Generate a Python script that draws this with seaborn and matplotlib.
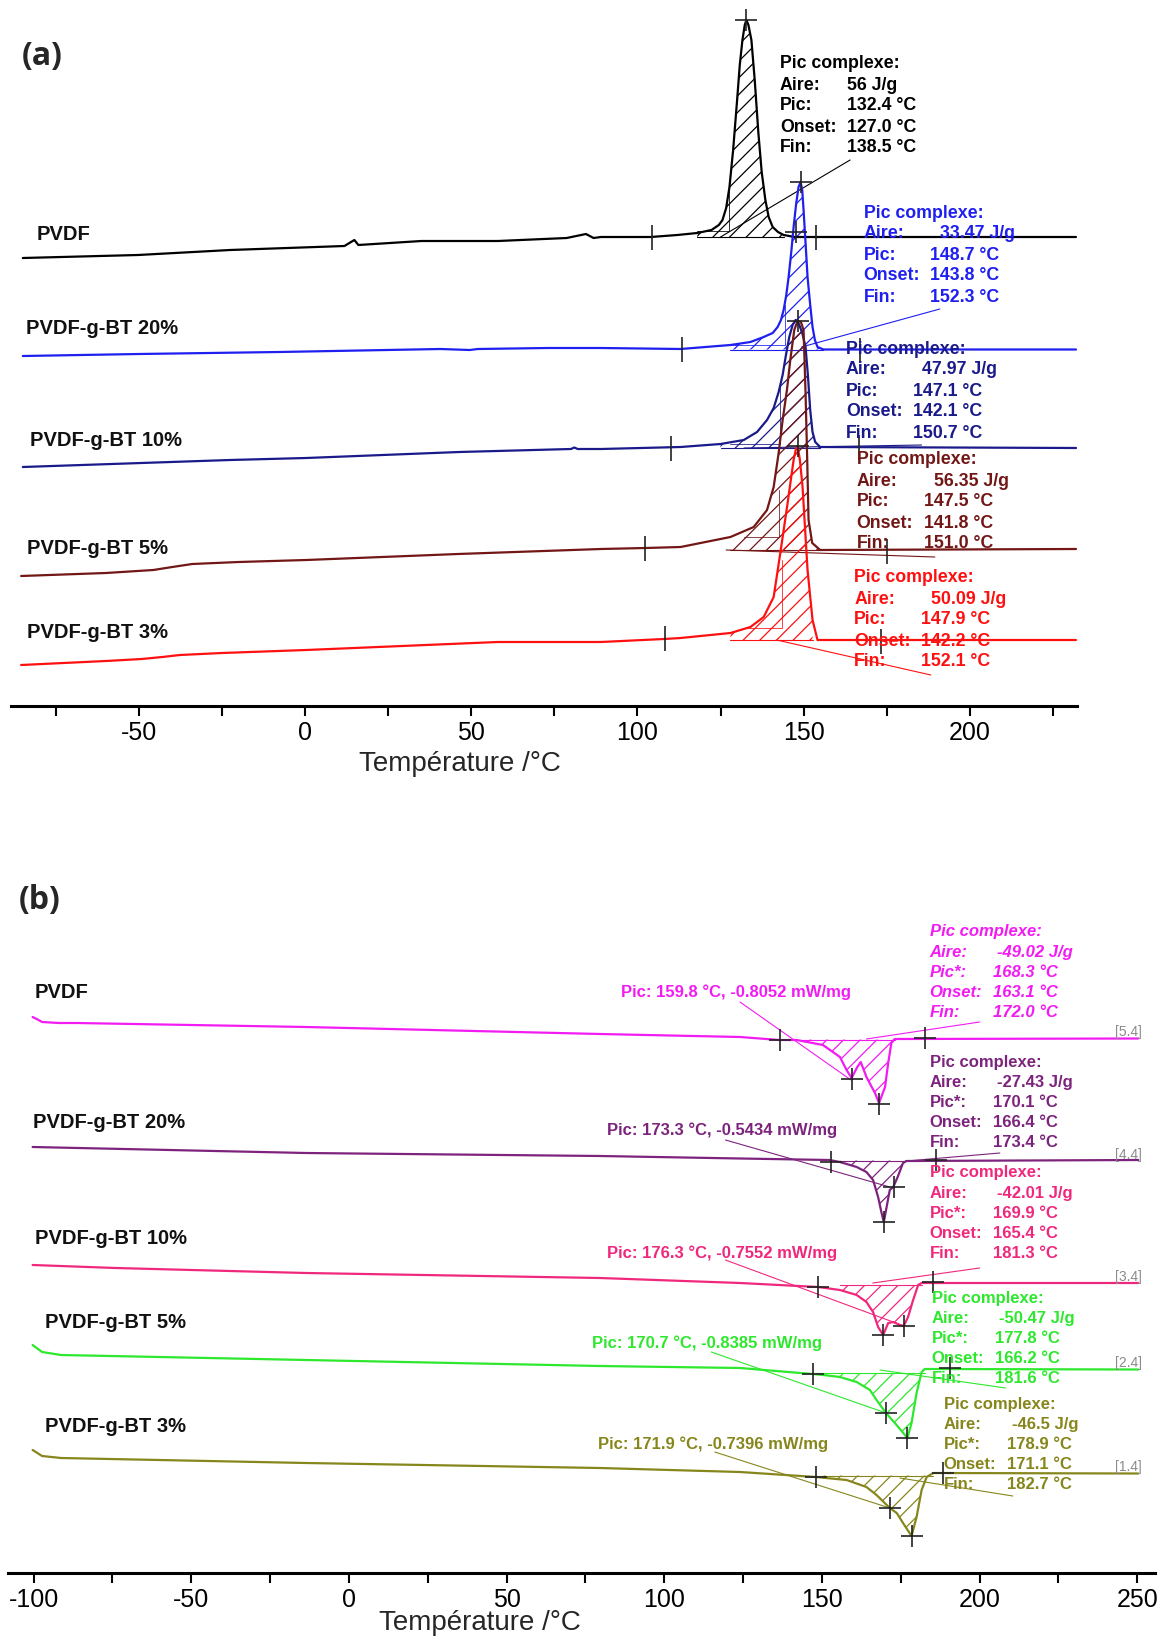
import numpy as np
import pandas as pd
import matplotlib
matplotlib.use("Agg")
import matplotlib.pyplot as plt
import seaborn as sns
from matplotlib.ticker import MultipleLocator

sns.set_theme(style="white")
plt.rcParams['font.family'] = ['Liberation Sans', 'DejaVu Sans']
plt.rcParams['hatch.linewidth'] = 0.9
plt.rcParams['axes.unicode_minus'] = False

# ---------------- Panel (a): cooling, heat flow (a.u., shifted) ----------------
a_T_pvdf = [-85, -50.3, -22.6, 11.8, 14.8, 16, 35, 58, 78.7, 84.5, 86.8, 89, 104, 112, 118, 122.3, 124.5,
            125.6, 126.7, 127.7, 128.8, 130, 130.8, 131.6, 132.3, 132.8, 133.4, 134.3, 135.3, 136.4, 137.4,
            138.5, 139.5, 140.7, 142.3, 144, 147.3, 232]
a_H_pvdf = [4.48, 4.51, 4.56, 4.60, 4.66, 4.61, 4.65, 4.65, 4.68, 4.72, 4.68, 4.69, 4.69, 4.71, 4.73, 4.76, 4.81,
            4.86, 4.98, 5.19, 5.56, 6.06, 6.41, 6.66, 6.81, 6.86, 6.81, 6.66, 6.26, 5.73, 5.34,
            5.06, 4.89, 4.79, 4.74, 4.71, 4.69, 4.69]

a_T_20 = [-85, -50, -7.8, 40.7, 49.5, 52, 73, 89, 113, 128, 134, 138, 140.7, 142.2, 143.2, 144, 144.8, 145.5,
          146.3, 147, 147.8, 148.5, 149.1, 149.6, 150, 150.6, 151.2, 152, 152.7, 153.4, 154.2, 156, 232]
a_H_20 = [3.50, 3.52, 3.54, 3.57, 3.56, 3.57, 3.58, 3.58, 3.57, 3.61, 3.64, 3.69, 3.73, 3.79, 3.86, 3.96, 4.11, 4.29,
          4.54, 4.79, 5.03, 5.19, 5.24, 5.16, 4.96, 4.63, 4.29, 4.01, 3.79, 3.66, 3.59, 3.565, 3.565]

a_T_10 = [-85, -22.6, 0.3, 46.4, 80, 81, 82, 89, 113, 125, 132, 136, 139, 141, 142.5, 143.7, 144.7, 145.7,
          146.7, 147.6, 148.6, 149.6, 150.6, 151.3, 152, 152.7, 153.5, 155, 232]
a_H_10 = [2.39, 2.46, 2.48, 2.54, 2.57, 2.585, 2.57, 2.57, 2.59, 2.62, 2.66, 2.74, 2.86, 2.98, 3.14, 3.31, 3.51, 3.69,
          3.81, 3.86, 3.82, 3.73, 3.59, 3.31, 2.96, 2.74, 2.64, 2.59, 2.58]

a_T_5 = [-85.5, -60, -45.7, -40, -34, -20, 0.3, 46, 89, 102.4, 113, 128, 135, 139, 141, 142.5, 143.7, 145, 146,
         147.2, 148.2, 149.2, 150, 150.6, 151.1, 151.5, 152.6, 155, 232]
a_H_5 = [1.30, 1.33, 1.36, 1.39, 1.42, 1.44, 1.46, 1.52, 1.57, 1.58, 1.59, 1.69, 1.79, 1.96, 2.19, 2.53, 2.86, 3.16,
         3.46, 3.76, 3.85, 3.84, 3.76, 3.13, 2.46, 1.86, 1.63, 1.56, 1.57]

a_T_3 = [-85.5, -60, -49.2, -43, -37.7, -25, 0.3, 58, 89, 108, 113, 128, 134, 138, 141, 143, 145.2, 147, 147.7,
         148.2, 148.9, 149.7, 151.2, 152.7, 154.2, 232]
a_H_3 = [0.41, 0.45, 0.47, 0.49, 0.51, 0.53, 0.56, 0.64, 0.64, 0.67, 0.68, 0.73, 0.79, 0.89, 1.09, 1.53, 2.03, 2.46,
         2.57, 2.60, 2.46, 2.19, 1.36, 0.86, 0.66, 0.66]

a_names = ["PVDF", "PVDF-g-BT 20%", "PVDF-g-BT 10%", "PVDF-g-BT 5%", "PVDF-g-BT 3%"]
a_aire = ["56 J/g", "33.47 J/g", "47.97 J/g", "56.35 J/g", "50.09 J/g"]
a_pic = ["132.4 °C", "148.7 °C", "147.1 °C", "147.5 °C", "147.9 °C"]
a_onset = ["127.0 °C", "143.8 °C", "142.1 °C", "141.8 °C", "142.2 °C"]
a_fin = ["138.5 °C", "152.3 °C", "150.7 °C", "151.0 °C", "152.1 °C"]
# integration window and baseline level of each peak
a_int_lo = [116, 125, 125, 128, 128]
a_int_hi = [147, 156, 155, 155, 154]
a_base = [4.69, 3.565, 2.58, 1.56, 0.66]
# peak markers (+) and limit markers (|)
a_peak_T = [132.8, 149.1, 148.2, 148.2, 147.6]
a_peak_H = [6.86, 5.24, 3.85, 2.60, 4.74]
a_lim_T = [104.3, 153.6, 113.5, 167, 110, 166.7, 102.4, 175, 108.3, 173.4]
a_lim_H = [4.69, 4.69, 3.57, 3.56, 2.58, 2.59, 1.58, 1.55, 0.68, 0.65]
# partial integration construction lines
a_cons_T = [[118, 127.6, 127.6], [128, 144.5, 144.5], [128, 143, 143], [132, 142.6, 142.6], [132, 143.6, 143.6]]
a_cons_H = [[4.75, 4.75, 5.16], [3.61, 3.61, 4.01], [2.62, 2.62, 3.21], [1.69, 1.69, 2.16], [0.78, 0.78, 1.46]]
# leader lines (text -> curve)
a_lead_T = [[164, 125], [191, 149.4], [185.5, 132.1], [189.5, 126.7], [188.3, 141.9]]
a_lead_H = [[5.46, 4.69], [3.97, 3.59], [2.61, 2.58], [1.49, 1.56], [0.31, 0.66]]

a_colors = ["#000000", "#1f1ff0", "#1a1a8a", "#731616", "#ff1010"]

# ---------------- Panel (b): heating ----------------
b_T_pvdf = [-100.3, -99, -97.3, -92, -86.4, -13.6, 79.6, 124, 136.5, 142, 150.3, 155.7, 157.8, 159.4, 161.2,
            162.3, 164.1, 166.8, 168.1, 170, 171, 172, 173.1, 250.3]
b_H_pvdf = [5.56, 5.54, 5.51, 5.50, 5.50, 5.46, 5.39, 5.36, 5.33, 5.33, 5.28, 5.16, 5.03, 4.95, 5.06,
            5.11, 4.96, 4.80, 4.70, 4.86, 5.10, 5.30, 5.34, 5.345]

b_T_20 = [-100.3, -13.6, 79.6, 124, 152.4, 155.7, 161, 164.1, 166.2, 167.8, 168.9, 169.6, 170.5, 171.5, 172.6,
          174, 175.7, 176.8, 250.3]
b_H_20 = [4.26, 4.20, 4.17, 4.145, 4.13, 4.11, 4.06, 4.01, 3.93, 3.76, 3.60, 3.51, 3.66, 3.83, 3.86,
          3.96, 4.10, 4.12, 4.13]

b_T_10 = [-100.3, -74, -13.6, 79.6, 124, 148.8, 155.7, 161, 164.1, 166.2, 167.8, 169.4, 171, 172.6, 174.7,
          175.9, 177.3, 178.9, 180.5, 181.6, 250.3]
b_H_10 = [3.08, 3.05, 3.00, 2.95, 2.90, 2.86, 2.83, 2.78, 2.71, 2.61, 2.46, 2.38, 2.50, 2.51, 2.48,
          2.47, 2.56, 2.73, 2.88, 2.90, 2.90]

b_T_5 = [-100.3, -97.3, -91.3, -13.6, 79.6, 124, 147, 150.4, 155.7, 161, 165.2, 167.3, 170.3, 174.2, 177.1,
         178.4, 180, 181.6, 182.6, 250.3]
b_H_5 = [2.28, 2.21, 2.18, 2.13, 2.07, 2.05, 1.99, 1.98, 1.96, 1.91, 1.83, 1.73, 1.60, 1.46, 1.35,
         1.50, 1.80, 2.01, 2.04, 2.035]

b_T_3 = [-100.3, -97.3, -91.3, -13.6, 79.6, 124, 148.1, 157.8, 164.1, 167.3, 171.5, 173.7, 175.7, 178.4, 180,
         181.6, 183.2, 185.3, 250.3]
b_H_3 = [1.23, 1.17, 1.15, 1.10, 1.05, 1.01, 0.96, 0.93, 0.86, 0.78, 0.65, 0.60, 0.50, 0.37, 0.56,
         0.83, 0.96, 1.00, 0.995]

b_names = ["PVDF", "PVDF-g-BT 20%", "PVDF-g-BT 10%", "PVDF-g-BT 5%", "PVDF-g-BT 3%"]
b_aire = ["-49.02 J/g", "-27.43 J/g", "-42.01 J/g", "-50.47 J/g", "-46.5 J/g"]
b_picstar = ["168.3 °C", "170.1 °C", "169.9 °C", "177.8 °C", "178.9 °C"]
b_onset = ["163.1 °C", "166.4 °C", "165.4 °C", "166.2 °C", "171.1 °C"]
b_fin = ["172.0 °C", "173.4 °C", "181.3 °C", "181.6 °C", "182.7 °C"]
b_pic_lbl = ["Pic: 159.8 °C, -0.8052 mW/mg", "Pic: 173.3 °C, -0.5434 mW/mg", "Pic: 176.3 °C, -0.7552 mW/mg",
             "Pic: 170.7 °C, -0.8385 mW/mg", "Pic: 171.9 °C, -0.7396 mW/mg"]
b_offset_lbl = ["[5.4]", "[4.4]", "[3.4]", "[2.4]", "[1.4]"]
b_int_lo = [139, 153, 149, 147, 148]
b_int_hi = [173.1, 176.8, 181.6, 182.6, 185.3]
b_base = [5.335, 4.125, 2.88, 2.0, 0.975]
b_pk1_T = [159.4, 169.6, 169.4, 170.3, 171.5]
b_pk1_H = [4.94, 3.51, 2.38, 1.60, 0.65]
b_pk2_T = [168.1, 172.8, 175.9, 177.1, 178.4]
b_pk2_H = [4.69, 3.86, 2.47, 1.35, 0.37]
b_lim_T = [136.6, 182.6, 153, 186, 148.8, 185.3, 147, 190.6, 148.1, 188.4]
b_lim_H = [5.33, 5.35, 4.11, 4.13, 2.86, 2.91, 1.99, 2.05, 0.96, 1.00]
b_lead1_T = [[124, 159.2], [119.4, 171.5], [119.4, 176], [114.9, 170.3], [116, 171.5]]
b_lead1_H = [[5.71, 4.93], [4.33, 3.86], [3.13, 2.47], [2.21, 1.60], [1.21, 0.65]]
b_lead2_T = [[200, 164.1], [206.4, 176.8], [200, 166.1], [208.2, 168.4], [210.5, 174.7]]
b_lead2_H = [[5.51, 5.34], [4.20, 4.12], [3.05, 2.90], [1.85, 2.03], [0.77, 0.95]]

b_colors = ["#f21cf2", "#7d237d", "#f0287d", "#2de82d", "#86861c"]

# ---------------- figure ----------------
W, Hpx = 1163, 1638
fig = plt.figure(figsize=(W / 100, Hpx / 100), dpi=100)
axA = fig.add_axes([10.5 / W, 1 - 706 / Hpx, (1077 - 10.5) / W, 700 / Hpx])
axB = fig.add_axes([7.7 / W, 1 - 1573 / Hpx, (1155 - 7.7) / W, 693 / Hpx])


def style_axis(ax, xlim, ylim, label_xy):
    ax.set_xlim(*xlim)
    ax.set_ylim(*ylim)
    for s in ["left", "right", "top"]:
        ax.spines[s].set_visible(False)
    ax.spines["bottom"].set_linewidth(2.2)
    ax.spines["bottom"].set_color("black")
    ax.set_yticks([])
    ax.set_ylabel("")
    ax.xaxis.set_major_locator(MultipleLocator(50))
    ax.xaxis.set_minor_locator(MultipleLocator(25))
    ax.tick_params(axis="x", which="both", direction="out", length=7, width=1.5,
                   colors="black", labelsize=18, pad=4, bottom=True)
    ax.set_xlabel("Température /°C", fontsize=20)
    ax.xaxis.set_label_coords(*label_xy)
    ax.set_facecolor("none")


def draw_curve(ax, T, H, color, lw=1.5):
    df = pd.DataFrame({"T": T, "H": H})
    sns.lineplot(data=df, x="T", y="H", ax=ax, color=color, lw=lw, sort=False, estimator=None,
                 legend=False, zorder=3)


def hatch_peak(ax, T, H, lo, hi, base, color):
    T = np.asarray(T, float)
    H = np.asarray(H, float)
    m = (T >= lo) & (T <= hi)
    ax.fill_between(T[m], H[m], base, facecolor="none", edgecolor=color, hatch="//",
                    linewidth=0, zorder=2)
    ax.plot([T[m][0], T[m][-1]], [base, base], color=color, lw=0.8, zorder=2)


# ---- panel (a)
a_T = [a_T_pvdf, a_T_20, a_T_10, a_T_5, a_T_3]
a_H = [a_H_pvdf, a_H_20, a_H_10, a_H_5, a_H_3]
for i in range(5):
    c = a_colors[i]
    hatch_peak(axA, a_T[i], a_H[i], a_int_lo[i], a_int_hi[i], a_base[i], c)
    draw_curve(axA, a_T[i], a_H[i], c, lw=1.6)
    axA.plot(a_cons_T[i], a_cons_H[i], color=c, lw=0.7, alpha=0.8, zorder=2)
    axA.plot(a_lead_T[i], a_lead_H[i], color=c, lw=0.8, zorder=2)

axA.plot(a_peak_T, a_peak_H, ls="none", marker="+", ms=16, mew=1.2, color="#222222", zorder=5)
axA.plot(a_lim_T, a_lim_H, ls="none", marker="|", ms=18, mew=1.2, color="#222222", zorder=5)

# text blocks in panel (a)
a_txt_x = [142.9, 168.1, 162.7, 166.0, 165.2]
a_val_x = [163.0, 188.1, 182.8, 186.1, 185.4]
a_aire_x = [163.0, 191.0, 185.5, 189.2, 188.3]
a_txt_top = [6.42, 4.93, 3.57, 2.46, 1.28]
a_step = 0.21
for i in range(5):
    c = a_colors[i]
    y0 = a_txt_top[i]
    kw = dict(color=c, fontsize=12.8, fontweight="bold", va="center", ha="left", zorder=6)
    axA.text(a_txt_x[i], y0, "Pic complexe:", **kw)
    rows = [("Aire:", a_aire[i]), ("Pic:", a_pic[i]), ("Onset:", a_onset[i]), ("Fin:", a_fin[i])]
    for k, (lab, val) in enumerate(rows):
        yy = y0 - (k + 1) * a_step
        axA.text(a_txt_x[i], yy, lab, **kw)
        axA.text(a_aire_x[i] if k == 0 else a_val_x[i], yy, val, **kw)

a_name_x = [-80.9, -84.0, -82.9, -83.8, -83.6]
a_name_y = [4.71, 3.78, 2.65, 1.58, 0.73]
for i in range(5):
    axA.text(a_name_x[i], a_name_y[i], a_names[i], fontsize=14.5, fontweight="bold",
             color="#111111", va="center", ha="left")

style_axis(axA, (-88.7, 232.3), (0, 7.0), (0.421, -0.064))

# ---- panel (b)
b_T = [b_T_pvdf, b_T_20, b_T_10, b_T_5, b_T_3]
b_H = [b_H_pvdf, b_H_20, b_H_10, b_H_5, b_H_3]
for i in range(5):
    c = b_colors[i]
    hatch_peak(axB, b_T[i], b_H[i], b_int_lo[i], b_int_hi[i], b_base[i], c)
    draw_curve(axB, b_T[i], b_H[i], c, lw=1.6)
    axB.plot(b_lead1_T[i], b_lead1_H[i], color=c, lw=0.8, zorder=2)
    axB.plot(b_lead2_T[i], b_lead2_H[i], color=c, lw=0.8, zorder=2)

axB.plot(b_pk1_T + b_pk2_T, b_pk1_H + b_pk2_H, ls="none", marker="+", ms=16, mew=1.2,
         color="#222222", zorder=5)
axB.plot(b_lim_T, b_lim_H, ls="none", marker="+", ms=16, mew=1.2, color="#222222", zorder=5)

b_txt_x = [184.1, 184.1, 184.1, 184.8, 188.6]
b_val_x = [204.2, 204.2, 204.2, 204.8, 208.8]
b_aire_x = [205.4, 205.4, 205.4, 206.0, 210.2]
b_txt_top = [6.41, 5.11, 4.00, 2.75, 1.69]
b_step = 0.202
b_pic_x = [86.4, 81.8, 81.8, 77.2, 78.9]
b_pic_y = [5.81, 4.43, 3.20, 2.30, 1.29]
b_off_y = [5.41, 4.18, 2.96, 2.10, 1.06]
for i in range(5):
    c = b_colors[i]
    style = "italic" if i == 0 else "normal"
    kw = dict(color=c, fontsize=12, fontweight="bold", fontstyle=style, va="center", ha="left", zorder=6)
    y0 = b_txt_top[i]
    axB.text(b_txt_x[i], y0, "Pic complexe:", **kw)
    rows = [("Aire:", b_aire[i]), ("Pic*:", b_picstar[i]), ("Onset:", b_onset[i]), ("Fin:", b_fin[i])]
    for k, (lab, val) in enumerate(rows):
        yy = y0 - (k + 1) * b_step
        axB.text(b_txt_x[i], yy, lab, **kw)
        axB.text(b_aire_x[i] if k == 0 else b_val_x[i], yy, val, **kw)
    axB.text(b_pic_x[i], b_pic_y[i], b_pic_lbl[i], color=c, fontsize=12, fontweight="bold",
             va="center", ha="left", zorder=6)
    axB.text(251.4, b_off_y[i], b_offset_lbl[i], color="#8a8a8a", fontsize=10, va="center",
             ha="right", zorder=6)

b_name_x = [-99.7, -100.3, -99.7, -96.4, -96.4]
b_name_y = [5.80, 4.51, 3.35, 2.50, 1.46]
for i in range(5):
    axB.text(b_name_x[i], b_name_y[i], b_names[i], fontsize=14.5, fontweight="bold",
             color="#111111", va="center", ha="left")

style_axis(axB, (-108.2, 255.6), (0, 6.93), (0.412, -0.054))

fig.text(22 / W, 1 - 57 / Hpx, "(a)", fontsize=23, fontweight="bold", family=["Open Sans", "DejaVu Sans"],
         va="center", ha="left")
fig.text(19 / W, 1 - 900 / Hpx, "(b)", fontsize=23, fontweight="bold", family=["Open Sans", "DejaVu Sans"],
         va="center", ha="left")

fig.savefig("out.png", dpi=100, facecolor="white")
